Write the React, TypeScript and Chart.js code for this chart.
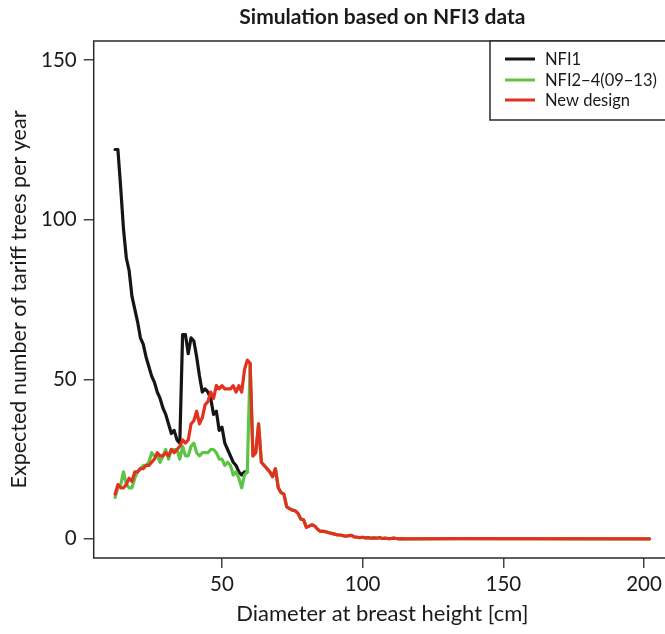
import { useEffect, useRef } from "react";
import { Chart, registerables } from "chart.js";

Chart.register(...registerables);

const chartTitle = "Simulation based on NFI3 data";
const xAxisTitle = "Diameter at breast height [cm]";
const yAxisTitle = "Expected number of tariff trees per year";
const seriesNames = ["NFI1", "NFI2\u22124(09\u221213)", "New design"];
const seriesColors = ["#151515", "#5cc545", "#e2311f"];

const xTickValues = [50, 100, 150, 200];
const yTickValues = [0, 50, 100, 150];

// diameter classes [cm]
const dbh = [
  12, 13, 14, 15, 16, 17, 18, 19, 20, 21, 22, 23, 24, 25, 26, 27, 28, 29, 30, 31,
  32, 33, 34, 35, 36, 37, 38, 39, 40, 41, 42, 43, 44, 45, 46, 47, 48, 49, 50, 51,
  52, 53, 54, 55, 56, 57, 58, 59, 60, 61, 62, 63, 64, 65, 66, 67, 68, 69, 70, 71,
  72, 73, 74, 75, 76, 77, 78, 79, 80, 81, 82, 83, 84, 85, 86, 87, 88, 89, 90, 91,
  92, 93, 94, 95, 96, 97, 98, 99, 100, 101, 102, 103, 104, 105, 106, 107, 108, 109,
  110, 111, 112, 113, 114, 115, 134, 202,
];

// NFI1 (12..59)
const nfi1 = [
  122, 122, 110, 97, 88, 84, 76, 72, 68, 63, 61, 57, 54, 51, 49, 46, 44, 41, 39, 36,
  33, 34, 31, 30, 64, 64, 58, 63, 62, 57, 51, 46, 47, 46, 44, 39, 40, 34, 35, 30,
  28, 26, 24, 23, 21, 20, 21, 21,
];

// NFI2-4 (12..59); from 60 cm on it coincides with the new design curve
const nfi2Head = [
  13, 16, 17, 21, 17, 16, 16, 19, 21, 22, 23, 23, 24, 27, 26, 26, 24, 26, 28, 25,
  28, 28, 28, 25, 29, 26, 26, 29, 30, 27, 26, 27, 27, 27, 28, 28, 27, 25, 25, 23,
  24, 23, 20, 21, 19, 16, 20, 21,
];

// New design (12..115, 134, 202)
const newDesign = [
  14, 17, 16, 16, 17, 19, 18, 21, 21, 22, 22, 23, 23, 24, 25, 27, 26, 26, 27, 26,
  28, 27, 28, 29, 31, 30, 31, 36, 37, 40, 36, 38, 42, 43, 46, 44, 48, 47, 48, 47,
  47, 47, 48, 46, 48, 46, 53, 56, 55, 26, 27, 36, 24, 23, 22, 21, 19.5, 22, 16, 14.5,
  14, 10, 9.5, 9, 8.8, 8, 6.2, 6, 3.6, 4, 4.4, 4, 3, 2.3, 2.4, 2.2, 1.9, 1.7, 1.5, 1.2,
  1.2, 1.0, 0.8, 1.0, 1.1, 0.6, 0.5, 0.4, 0.5, 0.3, 0.4, 0.2, 0.3, 0.2, 0.4, 0.1, 0.2, 0.1,
  0.1, 0.2, 0.1, 0, 0.05, 0, 0.1, 0,
];

const nfi2 = nfi2Head.concat(newDesign.slice(nfi2Head.length));

const FONT = "Lato";

function toPoints(values: number[]) {
  return values.map((y, i) => ({ x: dbh[i], y }));
}

const decorPlugin = {
  id: "decor",
  afterDraw(chart: any) {
    const { ctx, chartArea: a } = chart;
    ctx.save();
    // plot box
    ctx.strokeStyle = "#2a2a2a";
    ctx.lineWidth = 1.5;
    ctx.strokeRect(a.left, a.top, a.right - a.left, a.bottom - a.top);

    ctx.fillStyle = "#1a1a1a";
    ctx.textAlign = "center";
    ctx.textBaseline = "alphabetic";
    ctx.font = `bold 21px ${FONT}`;
    ctx.fillText(chartTitle, (a.left + a.right) / 2, 24);

    ctx.font = `22px ${FONT}`;
    ctx.fillText(xAxisTitle, (a.left + a.right) / 2, 621);

    ctx.save();
    ctx.translate(19, (a.top + a.bottom) / 2);
    ctx.rotate(-Math.PI / 2);
    ctx.textBaseline = "middle";
    ctx.font = `21.5px ${FONT}`;
    ctx.fillText(yAxisTitle, 0, 0);
    ctx.restore();

    // legend
    const lx = 490;
    const ly = a.top;
    ctx.fillStyle = "#ffffff";
    ctx.fillRect(lx, ly, 260, 79);
    ctx.strokeStyle = "#2a2a2a";
    ctx.lineWidth = 1.5;
    ctx.strokeRect(lx, ly, 260, 79);
    const rows = [59, 80, 100];
    ctx.font = `16.5px ${FONT}`;
    ctx.textAlign = "left";
    ctx.textBaseline = "middle";
    for (let i = 0; i < 3; i++) {
      ctx.strokeStyle = seriesColors[i];
      ctx.lineWidth = 3;
      ctx.beginPath();
      ctx.moveTo(505, rows[i]);
      ctx.lineTo(535, rows[i]);
      ctx.stroke();
      ctx.fillStyle = "#1a1a1a";
      ctx.fillText(seriesNames[i], 545, rows[i] + 1);
    }
    ctx.restore();
  },
};

export default function App() {
  const ref = useRef<HTMLCanvasElement | null>(null);

  useEffect(() => {
    if (!ref.current) return;
    const chart = new Chart(ref.current, {
      type: "line",
      data: {
        datasets: [
          { label: seriesNames[0], data: toPoints(nfi1), borderColor: seriesColors[0], order: 3 },
          { label: seriesNames[1], data: toPoints(nfi2), borderColor: seriesColors[1], order: 2 },
          { label: seriesNames[2], data: toPoints(newDesign), borderColor: seriesColors[2], order: 1 },
        ].map((d) => ({
          ...d,
          borderWidth: 3.2,
          pointRadius: 0,
          tension: 0,
          fill: false,
          borderCapStyle: "round" as const,
          borderJoinStyle: "round" as const,
        })),
      },
      options: {
        animation: false,
        responsive: false,
        devicePixelRatio: 1,
        layout: { padding: { top: 41, right: 29, left: 0, bottom: 0 } },
        plugins: { legend: { display: false }, tooltip: { enabled: false }, title: { display: false } },
        scales: {
          x: {
            type: "linear",
            min: 4.4,
            max: 209.6,
            afterFit: (s: any) => {
              s.height = 76;
            },
            afterBuildTicks: (s: any) => {
              s.ticks = xTickValues.map((v) => ({ value: v }));
            },
            border: { display: false },
            grid: { drawOnChartArea: false, drawTicks: true, tickLength: 10, color: "#444", lineWidth: 1.5 },
            ticks: { font: { family: FONT, size: 20.5 }, color: "#1a1a1a", padding: 4, maxRotation: 0 },
          },
          y: {
            type: "linear",
            min: -6,
            max: 156,
            afterFit: (s: any) => {
              s.width = 93.7;
            },
            afterBuildTicks: (s: any) => {
              s.ticks = yTickValues.map((v) => ({ value: v }));
            },
            border: { display: false },
            grid: { drawOnChartArea: false, drawTicks: true, tickLength: 10, color: "#444", lineWidth: 1.5 },
            ticks: { font: { family: FONT, size: 20.5 }, color: "#1a1a1a", padding: 7 },
          },
        },
      },
      plugins: [decorPlugin],
    });
    return () => chart.destroy();
  }, []);

  return (
    <div style={{ position: "absolute", left: 0, top: 0, width: 665, height: 634, overflow: "hidden", background: "#fff" }}>
      <canvas ref={ref} width={700} height={634} style={{ display: "block" }} />
    </div>
  );
}
